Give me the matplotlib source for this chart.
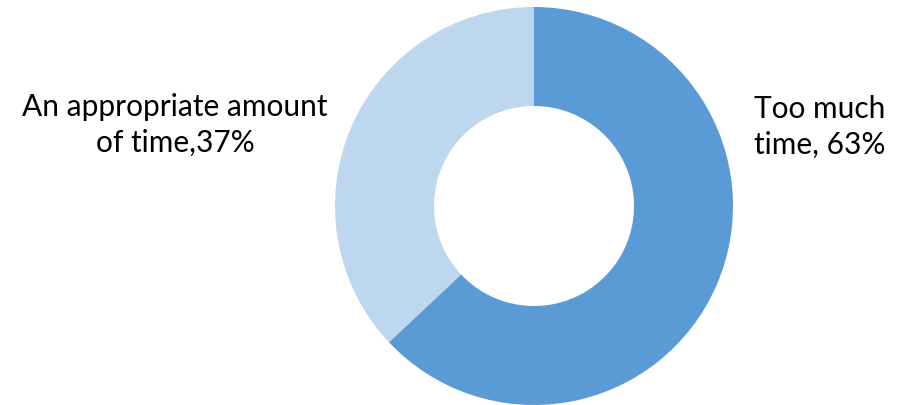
import matplotlib
matplotlib.use("Agg")
import matplotlib.pyplot as plt

labels = ["Too much\ntime, 63%", "An appropriate amount\nof time,37%"]
shares = [63, 37]
colors = ["#5B9BD5", "#BDD7EE"]

W, H = 907, 406
fig = plt.figure(figsize=(W / 100, H / 100), dpi=100)
ax = fig.add_axes([0, 0, 1, 1])

# donut drawn in pixel units, clockwise from 12 o'clock
ax.pie(shares, colors=colors, startangle=90, counterclock=False,
       center=(534, H - 207), radius=199,
       wedgeprops=dict(width=99, edgecolor="none"))
ax.set_xlim(0, W)
ax.set_ylim(0, H)
ax.set_aspect("equal")
ax.axis("off")

font = dict(family="Lato", fontsize=21.5, color="#000000",
            ha="center", va="center", linespacing=1.32)
ax.text(820, H - 127, labels[0], **font)
ax.text(175, H - 125, labels[1], **font)

fig.savefig("out.png", dpi=100, facecolor="white")
